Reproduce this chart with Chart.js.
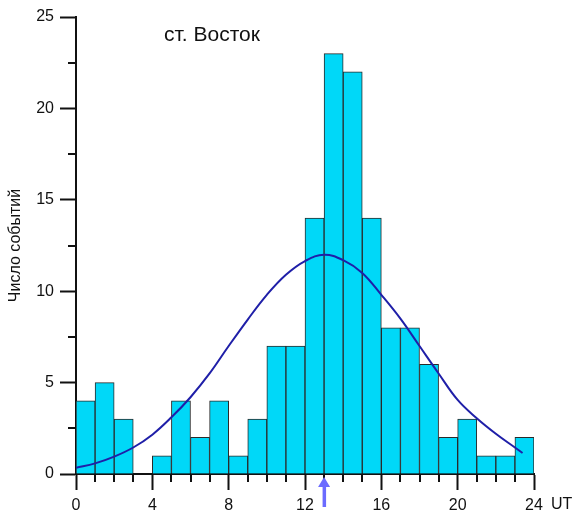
<!DOCTYPE html>
<html>
<head>
<meta charset="utf-8">
<script src="https://cdn.jsdelivr.net/npm/chart.js@4/dist/chart.umd.min.js"></script>
<style>
  html, body { margin: 0; padding: 0; background: #fff; }
  #wrap { width: 576px; height: 515px; }
</style>
</head>
<body>
<div id="wrap"><canvas id="histChart" width="576" height="515"></canvas></div>
<script>
/* ---- data ---- */
var binStarts  = [0, 1, 2, 3, 4, 5, 6, 7, 8, 9, 10, 11, 12, 13, 14, 15, 16, 17, 18, 19, 20, 21, 22, 23];
var eventCounts = [4, 5, 3, 0, 1, 4, 2, 4, 1, 3, 7, 7, 14, 23, 22, 14, 8, 8, 6, 2, 3, 1, 1, 2];
var curveUT    = [0, 1, 2, 3, 4, 5, 6, 7, 8, 9, 10, 11, 12, 13, 14, 15, 16, 17, 18, 19, 20, 21, 22, 23, 23.4];
var curveVals  = [0.34, 0.58, 0.95, 1.45, 2.15, 3.1, 4.2, 5.5, 7.0, 8.45, 9.8, 10.9, 11.65, 12.0, 11.7, 11.0, 9.8, 8.5, 7.0, 5.5, 4.05, 3.05, 2.2, 1.45, 1.15];
var xTicks     = [0, 4, 8, 12, 16, 20, 24];
var yTicks     = [0, 5, 10, 15, 20, 25];
var arrowUT    = 13;

var FONT = 'Liberation Sans, Arial, sans-serif';
Chart.defaults.font.family = FONT;
Chart.defaults.color = '#111';

var barData = binStarts.map(function (s, i) { return { x: s + 0.5, y: eventCounts[i] }; });
var lineData = curveUT.map(function (u, i) { return { x: u, y: curveVals[i] }; });

/* minor ticks, labels and the arrow */
var extras = {
  id: 'extras',
  afterDraw: function (chart) {
    var c = chart.ctx, xs = chart.scales.x, ys = chart.scales.y, a = chart.chartArea;
    c.save();
    c.strokeStyle = '#111';
    c.lineWidth = 2;
    c.beginPath();
    for (var i = 1; i < 24; i++) {
      if (i % 4 === 0) continue;
      var px = Math.round(xs.getPixelForValue(i));
      c.moveTo(px, a.bottom); c.lineTo(px, a.bottom + 8);
    }
    for (var v = 2.5; v < 25; v += 5) {
      var py = Math.round(ys.getPixelForValue(v));
      c.moveTo(a.left - 8, py); c.lineTo(a.left, py);
    }
    c.stroke();

    /* arrow under the axis */
    var ax = xs.getPixelForValue(arrowUT);
    c.fillStyle = '#6b6bff';
    c.fillRect(ax - 1.5, a.bottom + 11, 3.5, 22);
    c.beginPath();
    c.moveTo(ax, a.bottom + 3);
    c.lineTo(ax + 6, a.bottom + 13);
    c.lineTo(ax - 6, a.bottom + 13);
    c.closePath();
    c.fill();

    /* texts */
    c.fillStyle = '#111';
    c.textBaseline = 'middle';
    c.textAlign = 'left';
    c.font = '16px ' + FONT;
    c.fillText('UT', 551, 505);
    c.font = '21px ' + FONT;
    c.fillText('ст. Восток', 164, 35);
    c.restore();
  }
};

new Chart(document.getElementById('histChart'), {
  type: 'bar',
  data: {
    datasets: [
      {
        type: 'line',
        data: lineData,
        borderColor: '#1f1fa8',
        borderWidth: 2,
        pointRadius: 0,
        tension: 0.4,
        fill: false,
        order: 0
      },
      {
        type: 'bar',
        data: barData,
        backgroundColor: '#00d8f8',
        borderColor: '#2a2a2a',
        borderWidth: 1,
        barPercentage: 1,
        categoryPercentage: 1,
        order: 1
      }
    ]
  },
  options: {
    responsive: false,
    animation: false,
    layout: { padding: { top: 17, right: 42, left: 0, bottom: 0 } },
    plugins: { legend: { display: false }, tooltip: { enabled: false } },
    scales: {
      x: {
        type: 'linear',
        min: 0,
        max: 24,
        offset: false,
        afterFit: function (s) { s.height = 41; },
        afterBuildTicks: function (s) { s.ticks = xTicks.map(function (v) { return { value: v }; }); },
        ticks: { font: { size: 16 }, color: '#111', padding: 6, maxRotation: 0 },
        grid: { offset: false, drawOnChartArea: false, tickLength: 16, tickWidth: 2, tickColor: '#111' },
        border: { display: true, color: '#111', width: 2 }
      },
      y: {
        min: 0,
        max: 25,
        afterFit: function (s) { s.width = 76; },
        afterBuildTicks: function (s) { s.ticks = yTicks.map(function (v) { return { value: v }; }); },
        ticks: { font: { size: 16 }, color: '#111', padding: 6 },
        grid: { drawOnChartArea: false, tickLength: 16, tickWidth: 2, tickColor: '#111' },
        border: { display: true, color: '#111', width: 2 },
        title: { display: true, text: 'Число событий', font: { size: 16 }, color: '#111', padding: { top: 6, bottom: 0 } }
      }
    }
  },
  plugins: [extras]
});
</script>
</body>
</html>
